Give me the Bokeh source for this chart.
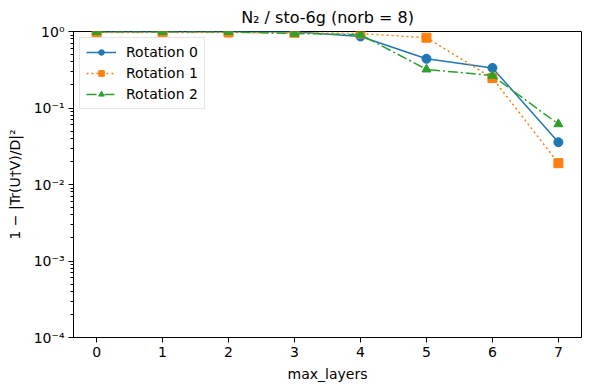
from bokeh.plotting import figure
from bokeh.models import Range1d, FixedTicker, CustomJSTickFormatter, Legend
from bokeh.embed import file_html
from bokeh.resources import INLINE

# Infidelity of the compiled circuit per max_layers, for three orbital rotations
max_layers = [0, 1, 2, 3, 4, 5, 6, 7]
rotation_0 = [0.995, 0.995, 0.99, 0.99, 0.86, 0.44, 0.334, 0.0357]
rotation_1 = [0.97, 0.975, 0.97, 0.96, 0.94, 0.83, 0.247, 0.019]
rotation_2 = [0.99, 0.99, 0.99, 0.94, 0.91, 0.32, 0.265, 0.0616]
series_labels = ["Rotation 0", "Rotation 1", "Rotation 2"]
y_ticks = [1e-4, 1e-3, 1e-2, 1e-1, 1e0]

FONT = "DejaVu Sans"

p = figure(
    width=590, height=390,
    y_axis_type="log",
    x_range=Range1d(-0.35, 7.35),
    y_range=Range1d(1e-4, 1.0),
    output_backend="svg",
    toolbar_location=None,
    min_border_left=73, min_border_right=9,
    min_border_top=31, min_border_bottom=53,
)

p.title.text = "N\u2082 / sto-6g (norb = 8)"
p.title.align = "center"
p.title.text_font = FONT
p.title.text_font_size = "16px"
p.title.text_font_style = "normal"
p.title.text_color = "black"

p.xgrid.visible = False
p.ygrid.visible = False
p.outline_line_color = "black"
p.outline_line_width = 1
p.background_fill_color = "white"
p.border_fill_color = "white"

minor = [m * 10.0 ** k for k in range(-4, 0) for m in range(2, 10)]
p.yaxis.ticker = FixedTicker(ticks=y_ticks, minor_ticks=minor)
p.yaxis.formatter = CustomJSTickFormatter(code="""
    const sup = {'-': '\u207b', '0': '\u2070', '1': '\u00b9', '2': '\u00b2', '3': '\u00b3',
                 '4': '\u2074', '5': '\u2075', '6': '\u2076', '7': '\u2077', '8': '\u2078', '9': '\u2079'};
    const e = Math.round(Math.log10(tick));
    return '10' + String(e).split('').map(c => sup[c]).join('');
""")
p.xaxis.ticker = FixedTicker(ticks=max_layers)

for ax in (p.xaxis, p.yaxis):
    ax.major_label_text_font = FONT
    ax.major_label_text_font_size = "14px"
    ax.axis_label_text_font = FONT
    ax.axis_label_text_font_size = "14px"
    ax.axis_label_text_font_style = "normal"
    ax.major_tick_in = 0
    ax.major_tick_out = 5
    ax.minor_tick_in = 0
    ax.minor_tick_out = 3
    ax.axis_line_color = "black"
    ax.major_tick_line_color = "black"
    ax.minor_tick_line_color = "black"
    ax.major_label_text_color = "black"
    ax.axis_label_text_color = "black"

p.xaxis.minor_tick_line_color = None
p.xaxis.axis_label = "max_layers"
p.yaxis.axis_label = "1 \u2212 |Tr(U\u2020V)/D|\u00b2"
p.xaxis.major_label_standoff = 4
p.yaxis.major_label_standoff = 4
p.xaxis.axis_label_standoff = 6
p.yaxis.axis_label_standoff = 8

styles = [
    (rotation_0, "#1f77b4", "solid", "circle"),
    (rotation_1, "#ff7f0e", "2 3", "square"),
    (rotation_2, "#2ca02c", "10 3 2 3", "triangle"),
]

items = []
for (vals, color, dash, marker), label in zip(styles, series_labels):
    ln = p.line(max_layers, vals, line_color=color, line_width=1.5, line_dash=dash)
    sc = p.scatter(max_layers, vals, marker=marker, size=9,
                   fill_color=color, line_color=color)
    items.append((label, [ln, sc]))

legend = Legend(items=items, location="top_left")
legend.label_text_font = FONT
legend.label_text_font_size = "14px"
legend.label_text_color = "black"
legend.border_line_color = "#cccccc"
legend.background_fill_alpha = 0.8
legend.glyph_width = 30
legend.glyph_height = 14
legend.label_height = 14
legend.label_standoff = 10
legend.spacing = 5
legend.padding = 6
legend.margin = 6
p.add_layout(legend)

open("out.html", "w").write(file_html(p, INLINE))
